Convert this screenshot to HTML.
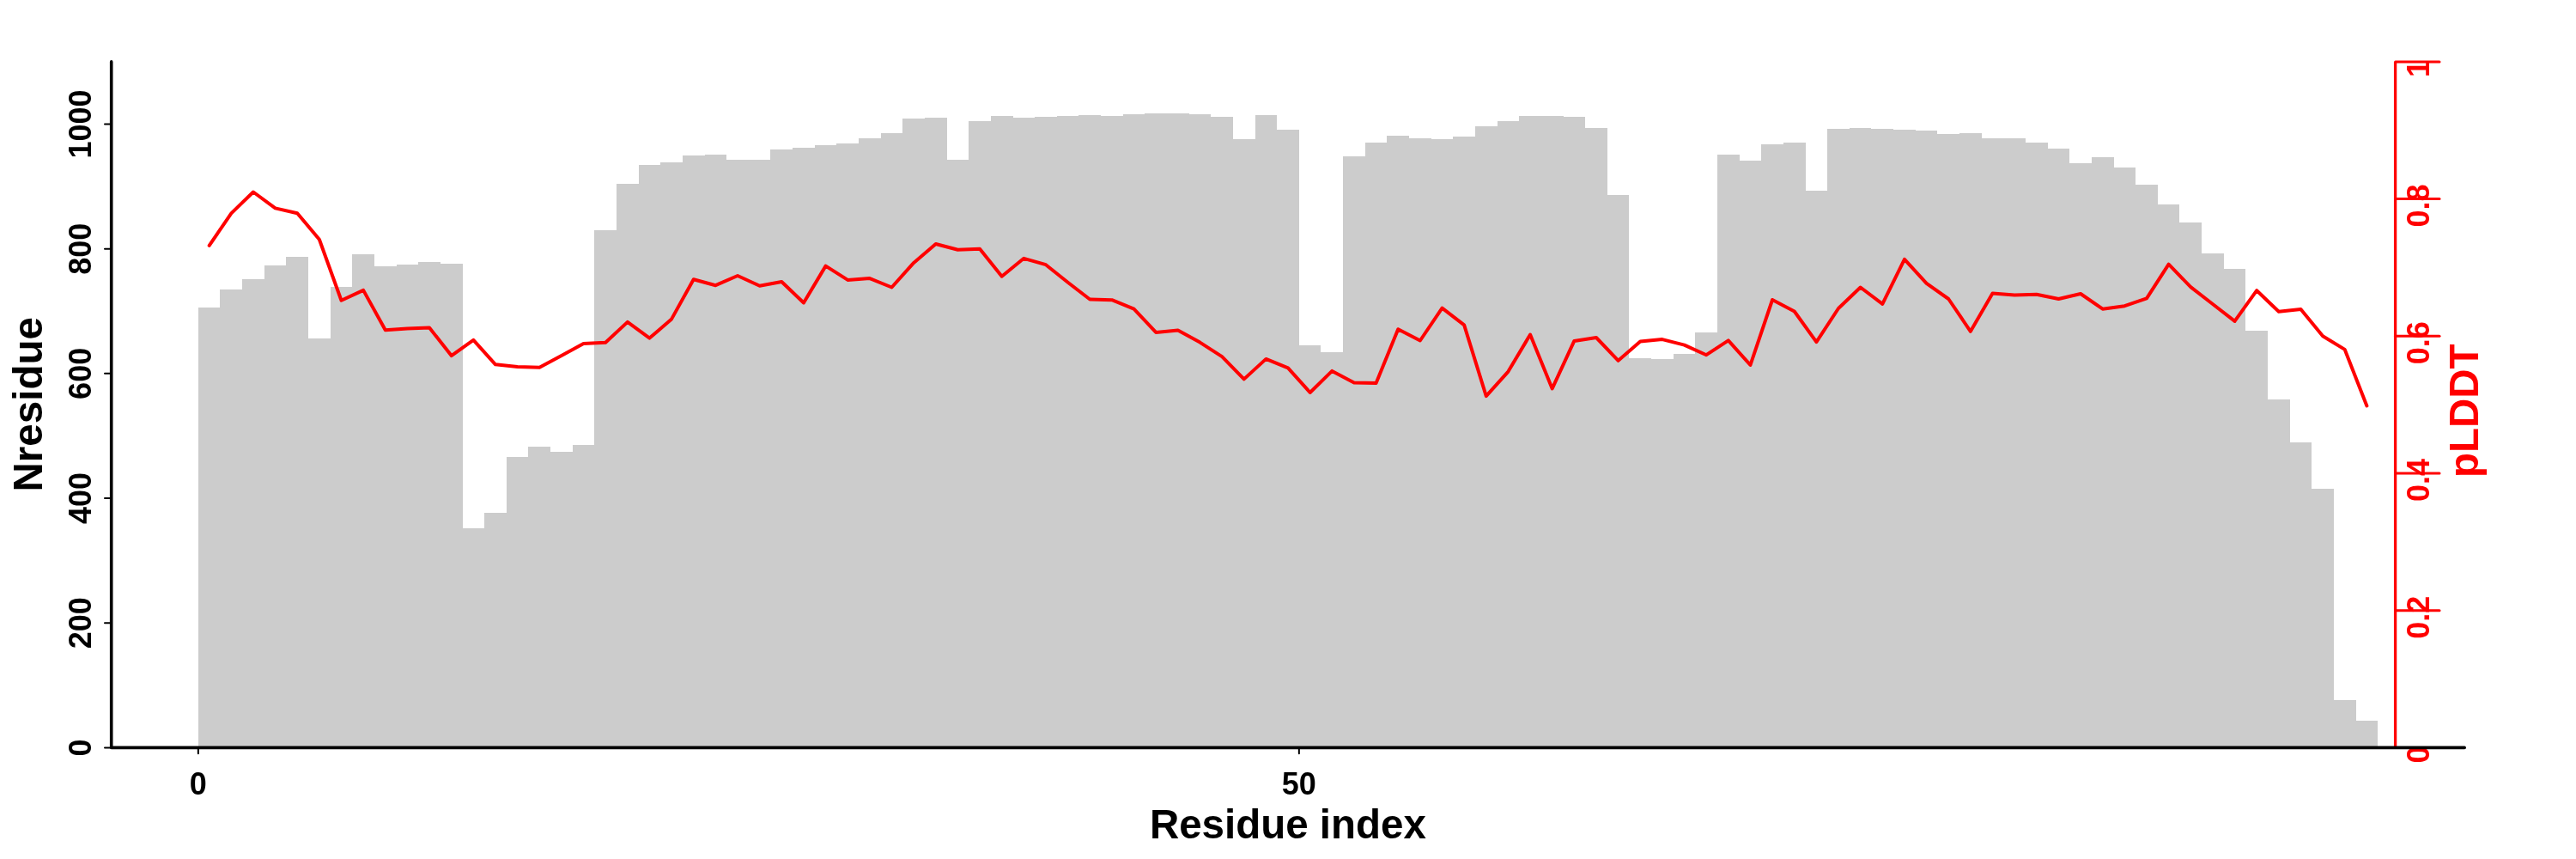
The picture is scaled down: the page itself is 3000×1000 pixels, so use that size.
<!DOCTYPE html>
<html><head><meta charset="utf-8"><title>plot</title><style>html,body{margin:0;padding:0;background:#fff;}svg{display:block;will-change:transform;}</style></head><body>
<svg width="3000" height="1000" viewBox="0 0 3000 1000">
<rect x="0" y="0" width="3000" height="1000" fill="#ffffff"/>
<path d="M230.85,870.4 L230.85,357.8 L256.49,357.8 L256.49,336.6 L282.13,336.6 L282.13,325.2 L307.77,325.2 L307.77,309.3 L333.41,309.3 L333.41,299.1 L359.05,299.1 L359.05,394.0 L384.69,394.0 L384.69,333.5 L410.33,333.5 L410.33,296.4 L435.97,296.4 L435.97,309.8 L461.61,309.8 L461.61,308.0 L487.25,308.0 L487.25,305.4 L512.89,305.4 L512.89,306.9 L538.53,306.9 L538.53,614.9 L564.17,614.9 L564.17,597.1 L589.81,597.1 L589.81,532.1 L615.45,532.1 L615.45,519.8 L641.09,519.8 L641.09,526.1 L666.73,526.1 L666.73,518.0 L692.37,518.0 L692.37,267.9 L718.01,267.9 L718.01,214.1 L743.65,214.1 L743.65,191.7 L769.29,191.7 L769.29,188.9 L794.93,188.9 L794.93,180.8 L820.57,180.8 L820.57,180.2 L846.21,180.2 L846.21,185.5 L871.85,185.5 L871.85,185.5 L897.49,185.5 L897.49,174.1 L923.13,174.1 L923.13,172.4 L948.77,172.4 L948.77,169.4 L974.41,169.4 L974.41,167.3 L1000.05,167.3 L1000.05,161.3 L1025.69,161.3 L1025.69,154.7 L1051.33,154.7 L1051.33,138.0 L1076.97,138.0 L1076.97,137.0 L1102.61,137.0 L1102.61,186.2 L1128.25,186.2 L1128.25,141.3 L1153.89,141.3 L1153.89,135.0 L1179.53,135.0 L1179.53,136.6 L1205.17,136.6 L1205.17,136.1 L1230.81,136.1 L1230.81,135.3 L1256.45,135.3 L1256.45,133.5 L1282.09,133.5 L1282.09,135.3 L1307.73,135.3 L1307.73,132.6 L1333.37,132.6 L1333.37,131.6 L1359.01,131.6 L1359.01,131.6 L1384.65,131.6 L1384.65,133.0 L1410.29,133.0 L1410.29,136.1 L1435.93,136.1 L1435.93,162.4 L1461.57,162.4 L1461.57,133.8 L1487.21,133.8 L1487.21,150.8 L1512.85,150.8 L1512.85,402.3 L1538.49,402.3 L1538.49,410.4 L1564.13,410.4 L1564.13,182.0 L1589.77,182.0 L1589.77,166.4 L1615.41,166.4 L1615.41,158.2 L1641.05,158.2 L1641.05,160.6 L1666.69,160.6 L1666.69,161.7 L1692.33,161.7 L1692.33,159.4 L1717.97,159.4 L1717.97,147.3 L1743.61,147.3 L1743.61,140.8 L1769.25,140.8 L1769.25,134.9 L1794.89,134.9 L1794.89,134.9 L1820.53,134.9 L1820.53,136.1 L1846.17,136.1 L1846.17,149.4 L1871.81,149.4 L1871.81,227.2 L1897.45,227.2 L1897.45,417.0 L1923.09,417.0 L1923.09,418.1 L1948.73,418.1 L1948.73,411.6 L1974.37,411.6 L1974.37,386.7 L2000.01,386.7 L2000.01,180.4 L2025.65,180.4 L2025.65,186.6 L2051.29,186.6 L2051.29,168.2 L2076.93,168.2 L2076.93,165.7 L2102.57,165.7 L2102.57,221.6 L2128.21,221.6 L2128.21,149.6 L2153.85,149.6 L2153.85,148.9 L2179.49,148.9 L2179.49,149.6 L2205.13,149.6 L2205.13,151.2 L2230.77,151.2 L2230.77,151.5 L2256.41,151.5 L2256.41,155.9 L2282.05,155.9 L2282.05,154.7 L2307.69,154.7 L2307.69,161.3 L2333.33,161.3 L2333.33,161.3 L2358.97,161.3 L2358.97,166.4 L2384.61,166.4 L2384.61,172.9 L2410.25,172.9 L2410.25,189.7 L2435.89,189.7 L2435.89,183.4 L2461.53,183.4 L2461.53,195.0 L2487.17,195.0 L2487.17,214.6 L2512.81,214.6 L2512.81,238.1 L2538.45,238.1 L2538.45,259.1 L2564.09,259.1 L2564.09,294.7 L2589.73,294.7 L2589.73,313.1 L2615.37,313.1 L2615.37,384.8 L2641.01,384.8 L2641.01,465.4 L2666.65,465.4 L2666.65,514.5 L2692.29,514.5 L2692.29,569.2 L2717.93,569.2 L2717.93,815.2 L2743.57,815.2 L2743.57,839.1 L2769.21,839.1 L2769.21,870.4 Z" fill="#cccccc" shape-rendering="crispEdges"/>
<polyline points="243.67,285.9 269.31,248.4 294.95,223.5 320.59,242.4 346.23,248.2 371.87,278.8 397.51,349.7 423.15,337.9 448.79,384.3 474.43,382.6 500.07,381.5 525.71,414.1 551.35,395.9 576.99,424.3 602.63,426.9 628.27,427.8 653.91,414.1 679.55,400.1 705.19,398.7 730.83,374.9 756.47,393.6 782.11,371.4 807.75,325.2 833.39,332.2 859.03,321.0 884.67,332.7 910.31,328.0 935.95,352.5 961.59,309.6 987.23,325.9 1012.87,324.1 1038.51,334.5 1064.15,305.9 1089.79,284.0 1115.43,290.7 1141.07,289.8 1166.71,321.7 1192.35,300.8 1217.99,308.2 1243.63,328.7 1269.27,348.5 1294.91,349.2 1320.55,359.7 1346.19,386.9 1371.83,384.6 1397.47,398.6 1423.11,415.1 1448.75,441.4 1474.39,417.9 1500.03,428.4 1525.67,457.0 1551.31,431.9 1576.95,445.4 1602.59,446.1 1628.23,383.2 1653.87,396.5 1679.51,358.7 1705.15,378.3 1730.79,461.2 1756.43,432.6 1782.07,389.5 1807.71,452.4 1833.35,396.9 1858.99,393.0 1884.63,419.8 1910.27,397.6 1935.91,395.1 1961.55,401.6 1987.19,413.2 2012.83,396.3 2038.47,424.9 2064.11,349.0 2089.75,362.5 2115.39,398.1 2141.03,359.0 2166.67,334.5 2192.31,353.9 2217.95,301.9 2243.59,329.9 2269.23,348.0 2294.87,385.8 2320.51,341.5 2346.15,343.4 2371.79,342.7 2397.43,348.0 2423.07,342.0 2448.71,359.7 2474.35,356.2 2499.99,347.3 2525.63,307.7 2551.27,334.1 2576.91,354.0 2602.55,373.9 2628.19,338.2 2653.83,362.7 2679.47,359.9 2705.11,391.3 2730.75,406.9 2756.39,472.5" fill="none" stroke="#ff0000" stroke-width="4" stroke-linejoin="round" stroke-linecap="round"/>
<line x1="2789.6" y1="71.90" x2="2789.6" y2="870.4" stroke="#ff0000" stroke-width="3.3"/>
<line x1="2789.6" y1="870.40" x2="2841" y2="870.40" stroke="#ff0000" stroke-width="3" stroke-linecap="round"/>
<line x1="2789.6" y1="710.70" x2="2841" y2="710.70" stroke="#ff0000" stroke-width="3" stroke-linecap="round"/>
<line x1="2789.6" y1="551.00" x2="2841" y2="551.00" stroke="#ff0000" stroke-width="3" stroke-linecap="round"/>
<line x1="2789.6" y1="391.30" x2="2841" y2="391.30" stroke="#ff0000" stroke-width="3" stroke-linecap="round"/>
<line x1="2789.6" y1="231.60" x2="2841" y2="231.60" stroke="#ff0000" stroke-width="3" stroke-linecap="round"/>
<line x1="2789.6" y1="71.90" x2="2841" y2="71.90" stroke="#ff0000" stroke-width="3" stroke-linecap="round"/>
<text transform="translate(2828.8,878.40) rotate(-90)" text-anchor="middle" font-family="'Liberation Sans', Arial, Helvetica, sans-serif" font-weight="bold" font-size="36" fill="#ff0000">0</text>
<text transform="translate(2828.8,718.70) rotate(-90)" text-anchor="middle" font-family="'Liberation Sans', Arial, Helvetica, sans-serif" font-weight="bold" font-size="36" fill="#ff0000">0.2</text>
<text transform="translate(2828.8,559.00) rotate(-90)" text-anchor="middle" font-family="'Liberation Sans', Arial, Helvetica, sans-serif" font-weight="bold" font-size="36" fill="#ff0000">0.4</text>
<text transform="translate(2828.8,399.30) rotate(-90)" text-anchor="middle" font-family="'Liberation Sans', Arial, Helvetica, sans-serif" font-weight="bold" font-size="36" fill="#ff0000">0.6</text>
<text transform="translate(2828.8,239.60) rotate(-90)" text-anchor="middle" font-family="'Liberation Sans', Arial, Helvetica, sans-serif" font-weight="bold" font-size="36" fill="#ff0000">0.8</text>
<text transform="translate(2828.8,79.90) rotate(-90)" text-anchor="middle" font-family="'Liberation Sans', Arial, Helvetica, sans-serif" font-weight="bold" font-size="36" fill="#ff0000">1</text>
<text transform="translate(2886.2,478.2) rotate(-90)" text-anchor="middle" font-family="'Liberation Sans', Arial, Helvetica, sans-serif" font-weight="bold" font-size="47.5" fill="#ff0000">pLDDT</text>
<line x1="122" y1="870.40" x2="129.7" y2="870.40" stroke="#000" stroke-width="2" stroke-linecap="round"/>
<text transform="translate(105.9,870.40) rotate(-90)" text-anchor="middle" font-family="'Liberation Sans', Arial, Helvetica, sans-serif" font-weight="bold" font-size="36" fill="#000">0</text>
<line x1="122" y1="725.22" x2="129.7" y2="725.22" stroke="#000" stroke-width="2" stroke-linecap="round"/>
<text transform="translate(105.9,725.22) rotate(-90)" text-anchor="middle" font-family="'Liberation Sans', Arial, Helvetica, sans-serif" font-weight="bold" font-size="36" fill="#000">200</text>
<line x1="122" y1="580.04" x2="129.7" y2="580.04" stroke="#000" stroke-width="2" stroke-linecap="round"/>
<text transform="translate(105.9,580.04) rotate(-90)" text-anchor="middle" font-family="'Liberation Sans', Arial, Helvetica, sans-serif" font-weight="bold" font-size="36" fill="#000">400</text>
<line x1="122" y1="434.86" x2="129.7" y2="434.86" stroke="#000" stroke-width="2" stroke-linecap="round"/>
<text transform="translate(105.9,434.86) rotate(-90)" text-anchor="middle" font-family="'Liberation Sans', Arial, Helvetica, sans-serif" font-weight="bold" font-size="36" fill="#000">600</text>
<line x1="122" y1="289.68" x2="129.7" y2="289.68" stroke="#000" stroke-width="2" stroke-linecap="round"/>
<text transform="translate(105.9,289.68) rotate(-90)" text-anchor="middle" font-family="'Liberation Sans', Arial, Helvetica, sans-serif" font-weight="bold" font-size="36" fill="#000">800</text>
<line x1="122" y1="144.50" x2="129.7" y2="144.50" stroke="#000" stroke-width="2" stroke-linecap="round"/>
<text transform="translate(105.9,144.50) rotate(-90)" text-anchor="middle" font-family="'Liberation Sans', Arial, Helvetica, sans-serif" font-weight="bold" font-size="36" fill="#000">1000</text>
<line x1="230.85" y1="870.4" x2="230.85" y2="877.3" stroke="#000" stroke-width="2" stroke-linecap="round"/>
<text x="230.85" y="924.8" text-anchor="middle" font-family="'Liberation Sans', Arial, Helvetica, sans-serif" font-weight="bold" font-size="36" fill="#000">0</text>
<line x1="1512.85" y1="870.4" x2="1512.85" y2="877.3" stroke="#000" stroke-width="2" stroke-linecap="round"/>
<text x="1512.85" y="924.8" text-anchor="middle" font-family="'Liberation Sans', Arial, Helvetica, sans-serif" font-weight="bold" font-size="36" fill="#000">50</text>
<polyline points="129.7,71.9 129.7,870.4 2870.2,870.4" fill="none" stroke="#000" stroke-width="3.6" stroke-linecap="round" stroke-linejoin="round"/>
<text x="1499.9" y="976.2" text-anchor="middle" font-family="'Liberation Sans', Arial, Helvetica, sans-serif" font-weight="bold" font-size="47.5" fill="#000">Residue index</text>
<text transform="translate(48.9,470.8) rotate(-90)" text-anchor="middle" font-family="'Liberation Sans', Arial, Helvetica, sans-serif" font-weight="bold" font-size="47.5" fill="#000">Nresidue</text>
</svg></body></html>
